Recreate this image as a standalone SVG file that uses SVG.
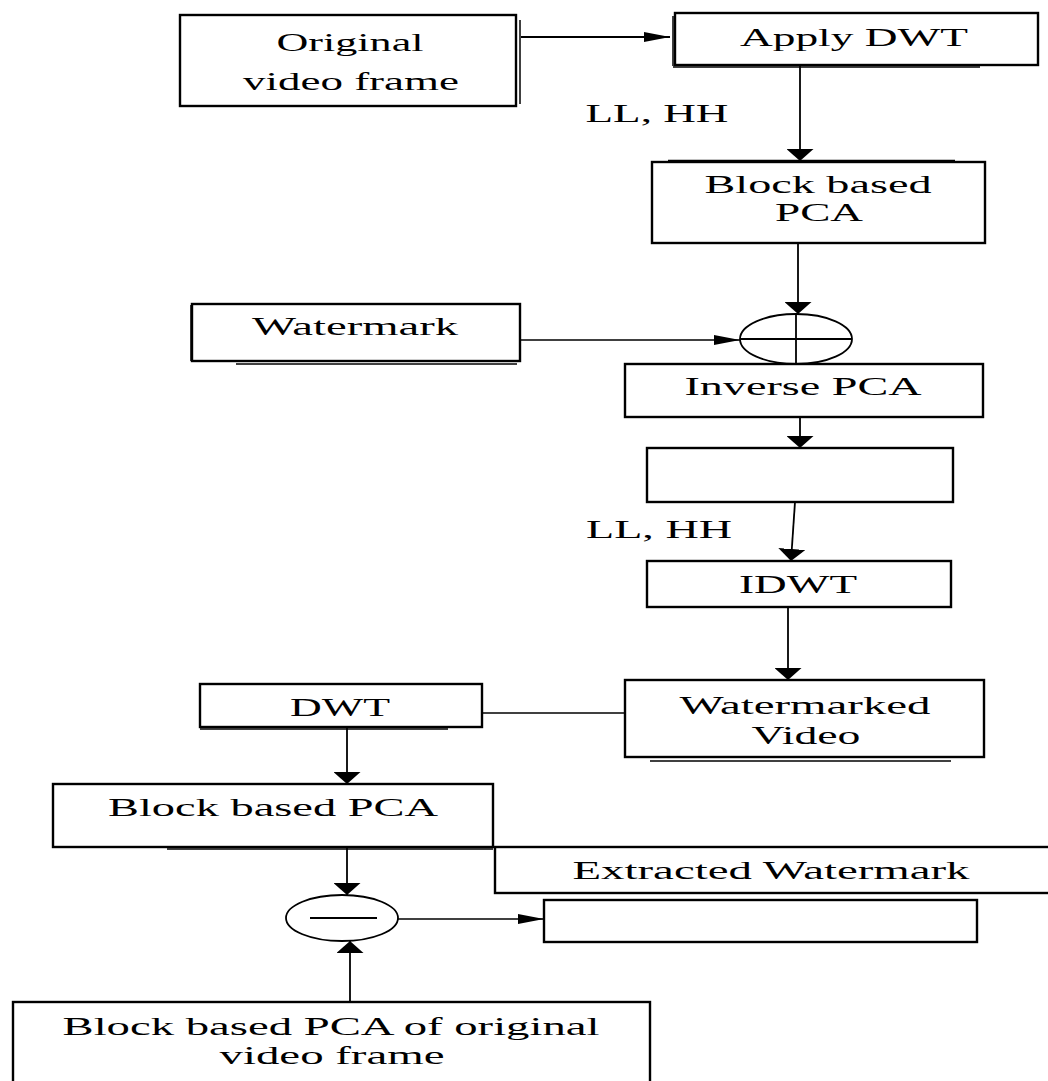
<svg xmlns="http://www.w3.org/2000/svg" width="1048" height="1081" viewBox="0 0 1048 1081">
<style>
  .box { fill: #fff; stroke: #000; stroke-width: 2.4; }
  .sh { fill: none; stroke: #000; stroke-width: 1.5; }
  .t { font-family: "Liberation Serif", "Times New Roman", serif; font-size: 25px; fill: #000; text-anchor: middle; }
  .tl { font-size: 26px; }
  .c { fill: none; stroke: #000; stroke-width: 1.8; }
  .ct { fill: none; stroke: #000; stroke-width: 1.4; }
  .op { fill: none; stroke: #000; stroke-width: 1.8; }
</style>
<defs>
  <marker id="av" markerUnits="userSpaceOnUse" viewBox="0 0 12 27" markerWidth="12" markerHeight="27" refX="12" refY="13.5" orient="auto">
    <path d="M0,0 L12,13.5 L0,27 z" fill="#000"/>
  </marker>
  <marker id="ah" markerUnits="userSpaceOnUse" viewBox="0 0 26 10" markerWidth="26" markerHeight="10" refX="26" refY="5" orient="auto">
    <path d="M0,0 L26,5 L0,10 z" fill="#000"/>
  </marker>
</defs>
<rect width="1048" height="1081" fill="#fff"/>

<g id="connectors">
  <line class="c" x1="521" y1="37" x2="670" y2="37" marker-end="url(#ah)"/>
  <line class="c" x1="800" y1="66" x2="800" y2="161" marker-end="url(#av)"/>
  <line class="c" x1="798" y1="243" x2="798" y2="314" marker-end="url(#av)"/>
  <line class="ct" x1="520" y1="340" x2="740" y2="340" marker-end="url(#ah)"/>
  <line class="c" x1="800" y1="417" x2="800" y2="448" marker-end="url(#av)"/>
  <line class="c" x1="795" y1="502" x2="791" y2="561" marker-end="url(#av)"/>
  <line class="c" x1="788" y1="607" x2="788" y2="680" marker-end="url(#av)"/>
  <line class="ct" x1="482" y1="713" x2="625" y2="713"/>
  <line class="c" x1="347" y1="727" x2="347" y2="784" marker-end="url(#av)"/>
  <line class="c" x1="347" y1="847" x2="347" y2="895" marker-end="url(#av)"/>
  <line class="c" x1="350" y1="1002" x2="350" y2="941" marker-end="url(#av)"/>
  <line class="ct" x1="398" y1="919" x2="544" y2="919" marker-end="url(#ah)"/>
  <text class="t" x="657" y="122" textLength="143" lengthAdjust="spacingAndGlyphs">LL, HH</text>
  <text class="t" x="659" y="538" textLength="146" lengthAdjust="spacingAndGlyphs">LL, HH</text>
</g>

<g id="n-original">
  <rect class="box" x="180" y="15" width="336" height="91"/>
  <line class="sh" x1="520" y1="20" x2="520" y2="104"/>
  <text class="t tl" x="350" y="51" textLength="147" lengthAdjust="spacingAndGlyphs">Original</text>
  <text class="t tl" x="351" y="90" textLength="216" lengthAdjust="spacingAndGlyphs">video frame</text>
</g>

<g id="n-apply-dwt">
  <rect class="box" x="675" y="13" width="363" height="52"/>
  <line class="sh" x1="673" y1="16" x2="673" y2="66" stroke-width="3"/>
  <line class="sh" x1="673" y1="67" x2="980" y2="67"/>
  <text class="t" x="854" y="46" textLength="228" lengthAdjust="spacingAndGlyphs">Apply DWT</text>
</g>

<g id="n-block-pca">
  <rect class="box" x="652" y="162" width="333" height="81"/>
  <line class="sh" x1="668" y1="160.5" x2="955" y2="160.5"/>
  <text class="t" x="818" y="193" textLength="227" lengthAdjust="spacingAndGlyphs">Block based</text>
  <text class="t" x="819" y="221" textLength="88" lengthAdjust="spacingAndGlyphs">PCA</text>
</g>

<g id="n-watermark">
  <rect class="box" x="192" y="304" width="328" height="57"/>
  <line class="sh" x1="191" y1="305" x2="191" y2="361" stroke-width="3"/>
  <line class="sh" x1="236" y1="364" x2="517" y2="364"/>
  <text class="t" x="355" y="335" textLength="206" lengthAdjust="spacingAndGlyphs">Watermark</text>
</g>

<g id="n-plus">
  <ellipse class="op" cx="796" cy="339" rx="56" ry="25"/>
  <line class="op" x1="796" y1="314" x2="796" y2="364" stroke-width="2.4"/>
  <line class="op" x1="740" y1="339" x2="852" y2="339"/>
</g>

<g id="n-inverse-pca">
  <rect class="box" x="625" y="364" width="358" height="53"/>
  <text class="t" x="803" y="395" textLength="237" lengthAdjust="spacingAndGlyphs">Inverse PCA</text>
</g>

<g id="n-empty1">
  <rect class="box" x="647" y="448" width="306" height="54"/>
</g>

<g id="n-idwt">
  <rect class="box" x="647" y="561" width="304" height="46"/>
  <text class="t" x="798" y="593" textLength="118" lengthAdjust="spacingAndGlyphs">IDWT</text>
</g>

<g id="n-watermarked">
  <rect class="box" x="625" y="680" width="359" height="77"/>
  <line class="sh" x1="650" y1="761" x2="951" y2="761"/>
  <text class="t" x="805" y="714" textLength="251" lengthAdjust="spacingAndGlyphs">Watermarked</text>
  <text class="t" x="806" y="744" textLength="109" lengthAdjust="spacingAndGlyphs">Video</text>
</g>

<g id="n-dwt">
  <rect class="box" x="200" y="684" width="282" height="43"/>
  <line class="sh" x1="200" y1="729" x2="448" y2="729"/>
  <text class="t" x="340" y="716" textLength="100" lengthAdjust="spacingAndGlyphs">DWT</text>
</g>

<g id="n-block-pca2">
  <rect class="box" x="53" y="784" width="440" height="63"/>
  <line class="sh" x1="167" y1="849" x2="493" y2="849"/>
  <text class="t" x="273" y="816" textLength="330" lengthAdjust="spacingAndGlyphs">Block based PCA</text>
</g>

<g id="n-extracted">
  <rect class="box" x="495" y="847" width="560" height="46"/>
  <text class="t" x="771" y="879" textLength="397" lengthAdjust="spacingAndGlyphs">Extracted Watermark</text>
</g>

<g id="n-minus">
  <ellipse class="op" cx="342" cy="918" rx="56" ry="23"/>
  <line class="op" x1="310" y1="918" x2="377" y2="918" stroke-width="2.2"/>
</g>

<g id="n-empty2">
  <rect class="box" x="544" y="900" width="433" height="42"/>
</g>

<g id="n-block-pca-orig">
  <rect class="box" x="13" y="1002" width="637" height="84"/>
  <text class="t" x="331" y="1035" textLength="537" lengthAdjust="spacingAndGlyphs">Block based PCA of original</text>
  <text class="t" x="332" y="1064" textLength="225" lengthAdjust="spacingAndGlyphs">video frame</text>
</g>
</svg>
